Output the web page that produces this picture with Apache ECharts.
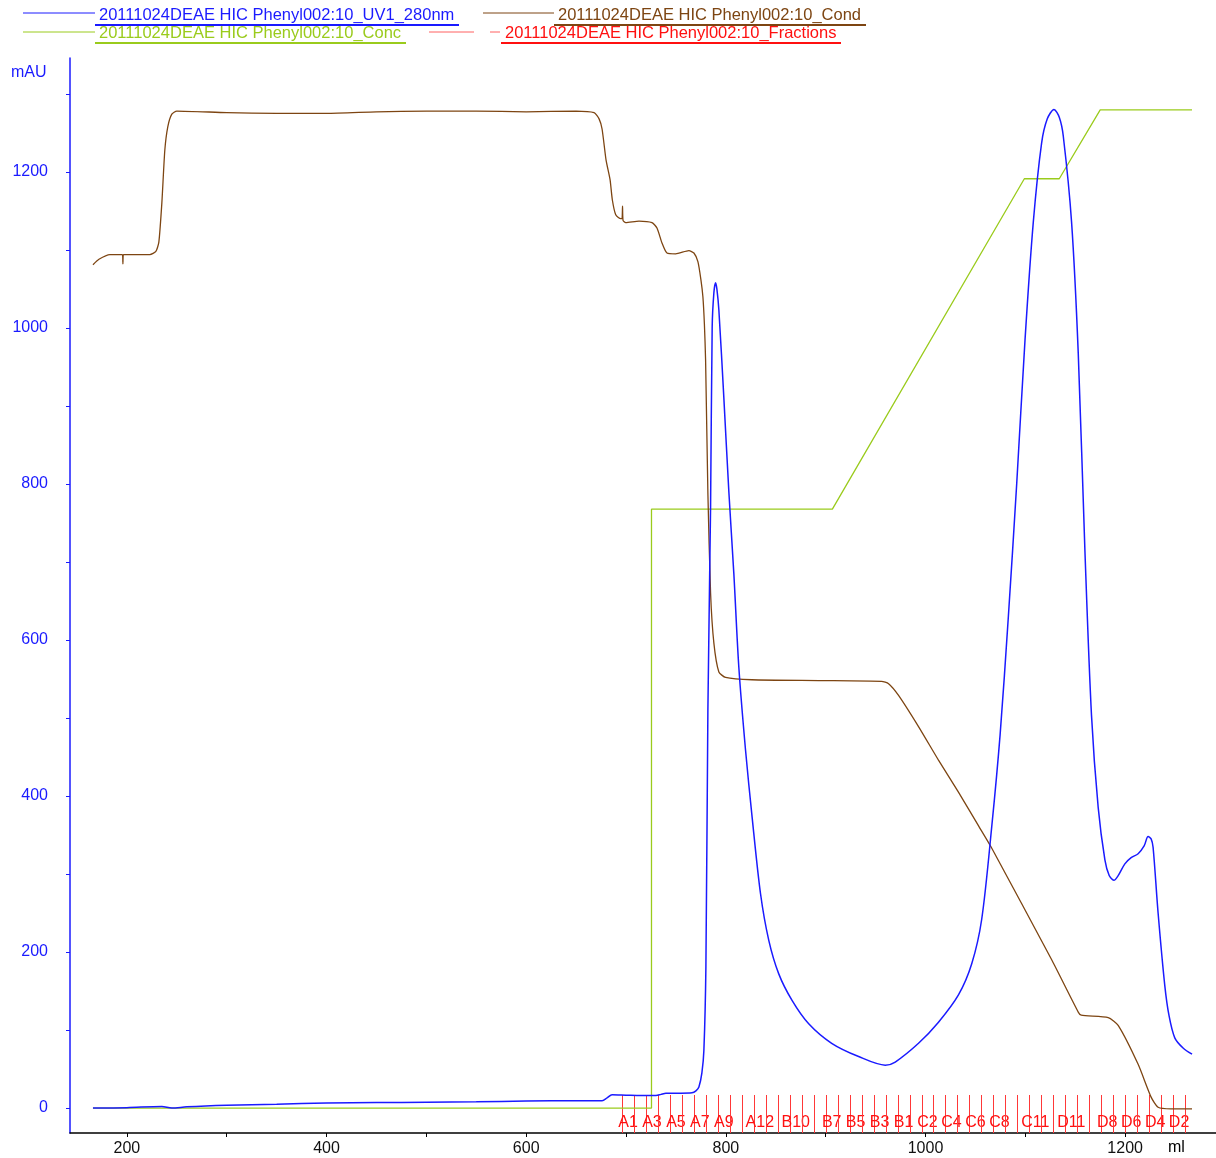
<!DOCTYPE html>
<html>
<head>
<meta charset="utf-8">
<title>20111024DEAE HIC Phenyl002:10</title>
<script src="https://cdn.jsdelivr.net/npm/echarts@6/dist/echarts.min.js"></script>
<style>
  html, body { margin: 0; padding: 0; background: #fff; }
  #chart { width: 1216px; height: 1158px; }
</style>
</head>
<body>
<div id="chart"></div>
<script>
// names as shown in the legend
const uvName = '20111024DEAE HIC Phenyl002:10_UV1_280nm'
const condName = '20111024DEAE HIC Phenyl002:10_Cond'
const concName = '20111024DEAE HIC Phenyl002:10_Conc'
const fracName = '20111024DEAE HIC Phenyl002:10_Fractions'

// axis ticks / labels
const xTickValues = [200, 300, 400, 500, 600, 700, 800, 900, 1000, 1100, 1200]
const xLabelValues = [200, 400, 600, 800, 1000, 1200]
const yTickValues = [0, 100, 200, 300, 400, 500, 600, 700, 800, 900, 1000, 1100, 1200, 1300]
const yLabelValues = [0, 200, 400, 600, 800, 1000, 1200]

// UV 280nm [ml, mAU]
const uvData = [
  [166, 0], [200, 0.5], [235, 2], [245, 0], [260, 1.5], [300, 3.5], [350, 5], [400, 6.5],
  [450, 7], [500, 7.5], [550, 8], [600, 9], [650, 9.5], [676, 9.5], [681, 13], [686, 17],
  [700, 16.5], [715, 16], [730, 16], [735, 17.5], [740, 19], [755, 19], [766, 19.5], [770, 22],
  [773, 27], [776, 45], [778, 74], [780, 180], [782, 510], [784.7, 771], [786.3, 1001],
  [788, 1045], [789.7, 1058], [791, 1050], [793, 1023], [798, 910], [803, 790], [808, 685],
  [813, 565], [819.7, 459], [826.3, 373], [834.7, 275], [843, 215], [853, 172], [866.3, 138],
  [883, 108], [906, 83], [933, 66], [959.7, 55], [969.7, 59], [993, 83], [1013, 110],
  [1033, 145], [1046.3, 185], [1056.3, 242], [1066.3, 360], [1074.7, 478], [1083, 630],
  [1091.3, 799], [1099.7, 985], [1108, 1136], [1116.3, 1237], [1122, 1268], [1128.7, 1280],
  [1134, 1270], [1138, 1246], [1146.3, 1136], [1153, 968], [1159.7, 714], [1166.3, 503],
  [1173, 385], [1179.7, 318], [1184, 298], [1188.7, 292], [1193, 298], [1199.7, 313],
  [1206, 321], [1213, 326], [1219, 336], [1223, 348], [1226, 345], [1228, 334], [1233, 250],
  [1239.7, 157], [1244, 118], [1249.7, 90], [1258, 77], [1267, 69]
]

// conductivity, drawn on the mAU scale
const condData = [
  [166, 1081], [172, 1088], [183, 1094], [195.5, 1094], [196, 1082], [196.5, 1094],
  [223, 1094], [229, 1098], [232, 1110], [235, 1160], [238, 1228], [241, 1258], [245, 1274],
  [250, 1278], [300, 1276], [350, 1275], [400, 1275], [450, 1277], [500, 1278], [550, 1278],
  [600, 1277], [650, 1278], [668, 1276], [673, 1268], [676, 1255], [680, 1215], [684, 1190],
  [686.3, 1164], [689.7, 1145], [694.7, 1140], [696, 1140], [696.5, 1156], [697, 1138],
  [699.7, 1135], [713, 1137], [726, 1135], [731, 1128], [736, 1109], [741, 1096], [749.7, 1095],
  [763, 1099], [768, 1096], [772, 1085], [775, 1062], [777, 1040], [778.5, 1005], [779.7, 959],
  [782, 788], [784.7, 660], [788, 596], [793, 559], [799.7, 552], [826, 549], [893, 548], [956, 547],
  [963, 544], [973, 529], [993, 489], [1013, 446], [1033, 405], [1053, 362], [1066, 334],
  [1126, 191], [1153, 123], [1156, 119], [1183, 116], [1193, 106], [1213, 56], [1226, 14],
  [1233, 1], [1246, -1], [1267, -1]
]

// concentration %B
const concData = [
  [166, 0], [725.5, 0], [725.5, 60], [906.7, 60], [1099, 93.1], [1134, 93.1], [1175, 100], [1267, 100]
]

// fractions
const fractionStarts = [
  696, 708, 720, 732, 744, 756, 768, 780, 792, 804, 816, 828,
  840, 852, 864, 876, 888, 900, 912, 924, 936, 948, 960, 972,
  984, 996, 1008, 1020, 1032, 1044, 1056, 1068, 1080, 1092, 1104, 1116,
  1128, 1140, 1152, 1164, 1176, 1188, 1200, 1212, 1224, 1236, 1248, 1260
]
const fractionNames = [
  'A1', 'A2', 'A3', 'A4', 'A5', 'A6', 'A7', 'A8', 'A9', 'A10', 'A11', 'A12',
  'B12', 'B11', 'B10', 'B9', 'B8', 'B7', 'B6', 'B5', 'B4', 'B3', 'B2', 'B1',
  'C1', 'C2', 'C3', 'C4', 'C5', 'C6', 'C7', 'C8', 'C9', 'C10', 'C11', 'C12',
  'D12', 'D11', 'D10', 'D9', 'D8', 'D7', 'D6', 'D5', 'D4', 'D3', 'D2', 'D1'
]
const fractionShown = [
  'A1', 'A3', 'A5', 'A7', 'A9', 'A12', 'B10', 'B7', 'B5', 'B3', 'B1',
  'C2', 'C4', 'C6', 'C8', 'C11', 'D11', 'D8', 'D6', 'D4', 'D2'
]

const font = "'Liberation Sans', Arial, sans-serif"
const blue = '#1a1aff'
const brown = '#7d4512'
const green = '#9acb1c'
const red = '#ff1010'
const yMin = -32
const yMax = 1346

const chart = echarts.init(document.getElementById('chart'))

function legendItem (x, y, textX, underTo, color, text, sample) {
  return [
    ...sample,
    { type: 'text', left: textX, top: y - 5, style: { text, fill: color, font: '16.5px ' + font } },
    { type: 'line', shape: { x1: x, y1: y + 13, x2: underTo, y2: y + 13 }, style: { stroke: color, lineWidth: 2 } }
  ]
}

const graphics = [
  ...legendItem(95, 12, 99, 459, blue, uvName, [
    { type: 'line', shape: { x1: 23, y1: 13, x2: 95, y2: 13 }, style: { stroke: blue, lineWidth: 1 } }
  ]),
  ...legendItem(554, 12, 558, 866, brown, condName, [
    { type: 'line', shape: { x1: 483, y1: 13, x2: 554, y2: 13 }, style: { stroke: brown, lineWidth: 1 } }
  ]),
  ...legendItem(95, 30, 99, 406, green, concName, [
    { type: 'line', shape: { x1: 23, y1: 32, x2: 95, y2: 32 }, style: { stroke: green, lineWidth: 1 } }
  ]),
  ...legendItem(501, 30, 505, 841, red, fracName, [
    { type: 'line', shape: { x1: 429, y1: 32, x2: 474, y2: 32 }, style: { stroke: '#ff6060', lineWidth: 1 } },
    { type: 'line', shape: { x1: 490, y1: 32, x2: 500, y2: 32 }, style: { stroke: '#ff6060', lineWidth: 1 } }
  ]),
  { type: 'text', left: 11, top: 65, style: { text: 'mAU', fill: blue, font: '16px ' + font } },
  { type: 'text', left: 1168, top: 1140, style: { text: 'ml', fill: '#000', font: '16px ' + font } }
]

const option = {
  animation: false,
  backgroundColor: '#fff',
  textStyle: { fontFamily: font },
  grid: { left: 70, right: 0, top: 58, bottom: 25, outerBoundsMode: 'none', containLabel: false },
  xAxis: {
    type: 'value',
    min: 143,
    max: 1291,
    axisLine: { show: true, onZero: false, lineStyle: { color: '#000', width: 1.5 } },
    axisTick: { show: true, length: 4, customValues: xTickValues, lineStyle: { color: '#000' } },
    axisLabel: {
      customValues: xLabelValues,
      formatter: (v) => String(v),
      color: '#111',
      fontSize: 16,
      margin: 8,
      fontFamily: font
    },
    splitLine: { show: false }
  },
  yAxis: [
    {
      type: 'value',
      min: yMin,
      max: yMax,
      axisLine: { show: true, onZero: false, lineStyle: { color: blue, width: 1.5 } },
      axisTick: { show: true, length: 4, customValues: yTickValues, lineStyle: { color: blue } },
      axisLabel: {
        customValues: yLabelValues,
        formatter: (v) => String(v),
        color: blue,
        fontSize: 16,
        margin: 22,
        fontFamily: font
      },
      splitLine: { show: false }
    },
    {
      type: 'value',
      show: false,
      min: -2.501,
      max: 105.2,
      splitLine: { show: false }
    }
  ],
  graphic: graphics,
  series: [
    {
      name: fracName,
      type: 'custom',
      z: 1,
      data: fractionStarts.map((s) => [s]),
      renderItem (params, api) {
        const i = params.dataIndex
        const start = api.value(0)
        const base = api.coord([start, yMin])
        const top = api.coord([start, 16.7])
        const x = Math.round(base[0]) + 0.5
        const children = [{
          type: 'line',
          shape: { x1: x, y1: base[1], x2: x, y2: top[1] },
          style: { stroke: '#ff3838', lineWidth: 1 }
        }]
        const name = fractionNames[i]
        if (fractionShown.includes(name) && i + 1 < fractionStarts.length) {
          const mid = api.coord([(start + fractionStarts[i + 1]) / 2, -19])
          children.push({
            type: 'text',
            style: { x: mid[0], y: mid[1], text: name, fill: red, font: '16px ' + font, align: 'center', verticalAlign: 'middle' }
          })
        }
        return { type: 'group', children }
      }
    },
    {
      name: concName,
      type: 'line',
      yAxisIndex: 1,
      z: 2,
      data: concData,
      showSymbol: false,
      symbol: 'none',
      lineStyle: { color: green, width: 1.3 }
    },
    {
      name: condName,
      type: 'line',
      z: 3,
      data: condData,
      showSymbol: false,
      symbol: 'none',
      smooth: 0.2,
      lineStyle: { color: brown, width: 1.3 }
    },
    {
      name: uvName,
      type: 'line',
      z: 4,
      data: uvData,
      showSymbol: false,
      symbol: 'none',
      smooth: 0.3,
      lineStyle: { color: blue, width: 1.5 }
    }
  ]
}

chart.setOption(option)
</script>
</body>
</html>
